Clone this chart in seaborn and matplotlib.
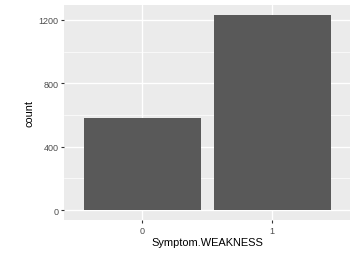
import matplotlib
matplotlib.use("Agg")
import matplotlib.pyplot as plt
import seaborn as sns
import pandas as pd
from matplotlib.ticker import MultipleLocator

# counts
categories = ["0", "1"]
counts = [584, 1232]

df = pd.DataFrame({"Symptom.WEAKNESS": categories, "count": counts})

sns.set_theme(style="darkgrid")
plt.rcParams["font.family"] = ["Liberation Sans", "DejaVu Sans"]

fig = plt.figure(figsize=(3.53, 2.55), dpi=100)
ax = fig.add_axes([64 / 353, 34 / 255, 286 / 353, 215 / 255])
ax.set_facecolor("#EBEBEB")

sns.barplot(data=df, x="Symptom.WEAKNESS", y="count", color="#595959",
            saturation=1, width=0.9, linewidth=0, edgecolor="none", ax=ax, zorder=3)

ax.set_xlim(-0.6, 1.6)
ymax = max(counts) * 1.05
ax.set_ylim(-max(counts) * 0.05, ymax)
ax.yaxis.set_major_locator(MultipleLocator(400))
ax.yaxis.set_minor_locator(MultipleLocator(200))

ax.grid(which="major", color="white", linewidth=1.0, zorder=0)
ax.grid(which="minor", axis="y", color="white", linewidth=0.5, zorder=0)
ax.set_axisbelow(True)
for s in ax.spines.values():
    s.set_visible(False)

ax.tick_params(axis="both", which="major", length=2.5, width=0.8, color="#333333",
               labelsize=6.5, labelcolor="#4D4D4D", pad=1.5, bottom=True, left=True)
ax.tick_params(axis="both", which="minor", length=0)
ax.set_xlabel("Symptom.WEAKNESS", fontsize=7.9, color="black", labelpad=2)
ax.set_ylabel("count", fontsize=7.9, color="black", labelpad=3)

fig.savefig("out.png", dpi=100)
